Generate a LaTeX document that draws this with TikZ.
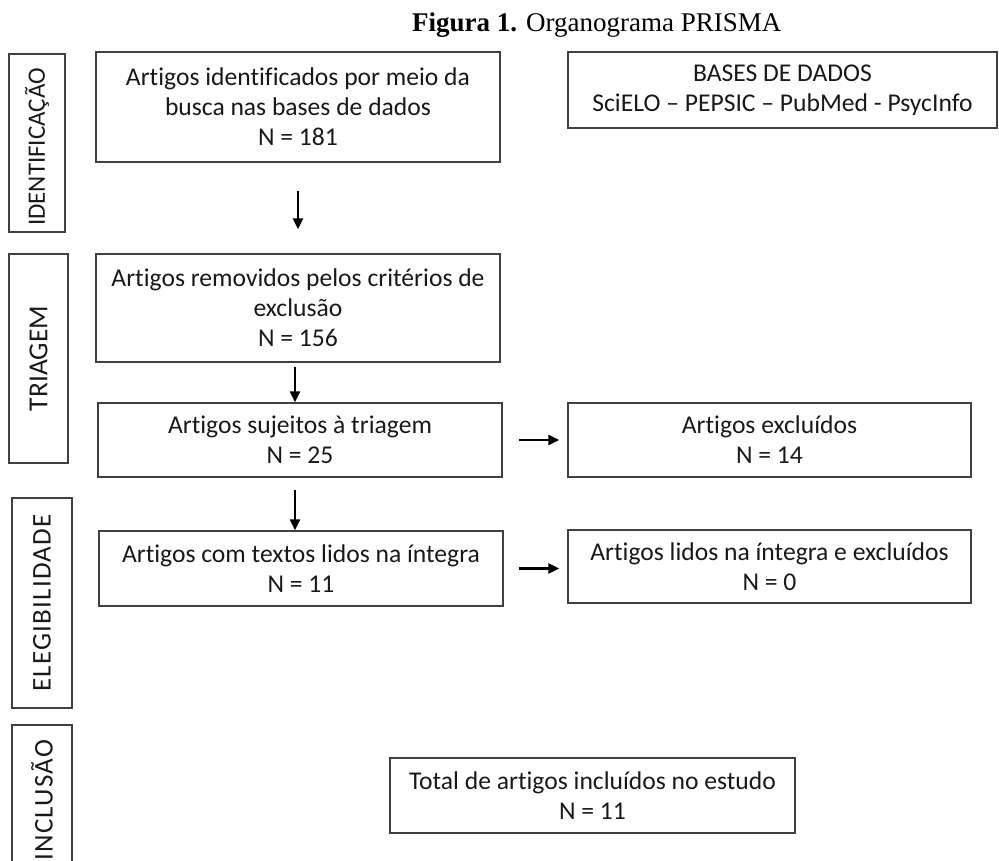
\documentclass[tikz,border=0pt]{standalone}
\usepackage{fontspec}
\setmainfont{Carlito}[Ligatures=NoCommon]
\newfontfamily\titlefont{Liberation Serif}
\newfontfamily\spacedfont[LetterSpace=4.5,Ligatures=NoCommon]{Carlito}
\usetikzlibrary{arrows.meta}
\begin{document}
\begin{tikzpicture}[x=1pt,y=-1pt,
  box/.style={draw=black!75, line width=1.2pt, rectangle, inner sep=0pt, align=center,
    font=\fontsize{25.6pt}{30pt}\selectfont, text=black!90},
  lab/.style={draw=black!75, line width=1.2pt, rectangle, inner sep=0pt, rotate=90,
    text=black!90},
  arr/.style={-{Triangle[length=11pt,width=10pt]}, line width=2.3pt, black}]
\useasboundingbox (0,0) rectangle (999,861);

\node[anchor=base west, inner sep=0pt, font=\titlefont\fontsize{27pt}{32pt}\selectfont] (title) at (412,32) {\textbf{Figura 1.} Organograma PRISMA};

% phase labels
\node[lab, minimum width=178pt, minimum height=56pt, font=\fontsize{25pt}{30pt}\selectfont] (lab1) at (37,143) {IDENTIFICAÇÃO\hspace*{8pt}};
\node[lab, minimum width=209pt, minimum height=59pt, font=\fontsize{27.5pt}{32pt}\selectfont] (lab2) at (38.5,358.5) {TRIAGEM};
\node[lab, minimum width=210pt, minimum height=60pt, font=\spacedfont\fontsize{27pt}{32pt}\selectfont] (lab3) at (42,603) {ELEGIBILIDADE};
\node[lab, minimum width=150pt, minimum height=60pt, font=\spacedfont\fontsize{27pt}{32pt}\selectfont] (lab4) at (42,800) {INCLUSÃO};

% boxes
\node[box, minimum width=404pt, minimum height=110pt] (b1) at (298,107) {Artigos identificados por meio da\\busca nas bases de dados\\N = 181};
\node[box, minimum width=429pt, minimum height=76pt] (bases) at (782.5,90) {BASES DE DADOS\\SciELO – PEPSIC – PubMed - PsycInfo};
\node[box, minimum width=404pt, minimum height=108pt] (b2) at (298,308) {Artigos removidos pelos critérios de\\exclusão\\N = 156};
\node[box, minimum width=404pt, minimum height=74pt] (b3) at (300,440) {Artigos sujeitos à triagem\\N = 25};
\node[box, minimum width=403pt, minimum height=74pt] (ex1) at (769.5,440) {Artigos excluídos\\N = 14};
\node[box, minimum width=404pt, minimum height=75pt] (b4) at (301,568.5) {Artigos com textos lidos na íntegra\\N = 11};
\node[box, minimum width=403pt, minimum height=73pt] (ex2) at (769.5,566.5) {Artigos lidos na íntegra e excluídos\\N = 0};
\node[box, minimum width=405pt, minimum height=75pt] (tot) at (592.5,795.5) {Total de artigos incluídos no estudo\\N = 11};

% arrows
\draw[arr] ([yshift=-28pt]b1.south) -- ([yshift=24pt]b2.north);
\draw[arr] ([xshift=-3pt,yshift=-4pt]b2.south) -- ([xshift=-5pt]b3.north);
\draw[arr] ([xshift=-5pt,yshift=-12pt]b3.south) -- ([xshift=-6pt]b4.north);
\draw[arr] ([xshift=16pt]b3.east) -- ([xshift=-8pt]ex1.west);
\draw[arr] ([xshift=15pt]b4.east) -- ([xshift=-8pt]ex2.west |- b4.east);
\end{tikzpicture}
\end{document}
